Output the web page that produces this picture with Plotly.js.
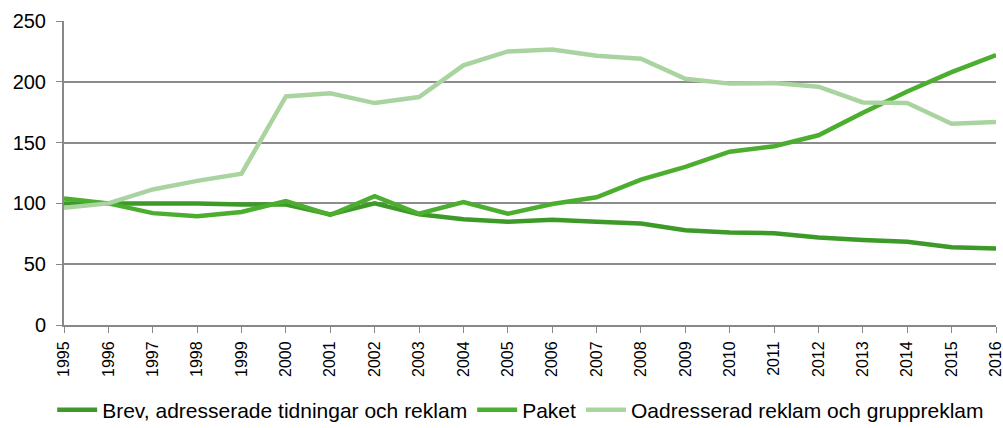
<!DOCTYPE html>
<html>
<head>
<meta charset="utf-8">
<script src="https://cdn.plot.ly/plotly-3.0.1.min.js"></script>
<style>html,body{margin:0;padding:0;background:#fff;}#chart{width:1003px;height:428px;}</style>
</head>
<body>
<div id="chart"></div>
<script>
var years = ["1995","1996","1997","1998","1999","2000","2001","2002","2003","2004","2005","2006","2007","2008","2009","2010","2011","2012","2013","2014","2015","2016"];
var brev = [100,100,100,100,99,99,91,100,91,87,85,86.5,85,83.5,78,76,75.5,72,70,68.5,64,63];
var paket = [104,100,92,89.5,93,102,90.5,106,91.5,101,91.5,99.5,105,119.5,130,142.5,147,156,174.5,192,208,222];
var oadr = [96.5,100,111.5,118.5,124.5,188,190.5,182.5,187.5,213.5,225,226.5,221.5,219,202.5,198.5,199,196,183,182.5,165.5,167];
var names = ["Brev, adresserade tidningar och reklam","Paket","Oadresserad reklam och gruppreklam"];
var colors = ["#3d9a28","#4cae2f","#a9d4a0"];
var series = [brev, paket, oadr];
var traces = series.map(function(s,i){
  return {x: years, y: s, name: names[i], type: "scatter", mode: "lines",
          line: {color: colors[i], width: 4.5}};
});
var layout = {
  width: 1003, height: 428,
  margin: {l: 64, r: 7, t: 21, b: 103, autoexpand: false},
  paper_bgcolor: "#fff", plot_bgcolor: "#fff",
  font: {family: "Liberation Sans, Arial, sans-serif", color: "#000"},
  showlegend: true,
  legend: {orientation: "h", x: 0.49, xanchor: "center", y: -0.28, yanchor: "middle",
           font: {size: 21}, traceorder: "normal", itemwidth: 40},
  xaxis: {type: "category", range: [0, 21], showgrid: false, showline: true, automargin: false,
          linecolor: "#888", linewidth: 2, ticks: "outside", ticklen: 6, tickcolor: "#888",
          tickangle: -90, tickfont: {size: 16}, zeroline: false, ticklabelstandoff: 2},
  yaxis: {range: [0, 250], dtick: 50, showgrid: true, gridcolor: "#8c8c8c", gridwidth: 2, automargin: false,
          showline: true, linecolor: "#888", linewidth: 2, ticks: "outside", ticklen: 6,
          tickcolor: "#888", tickfont: {size: 20}, zeroline: false, ticklabelstandoff: 6}
};
Plotly.newPlot("chart", traces, layout, {displayModeBar: false, staticPlot: true});
</script>
</body>
</html>
